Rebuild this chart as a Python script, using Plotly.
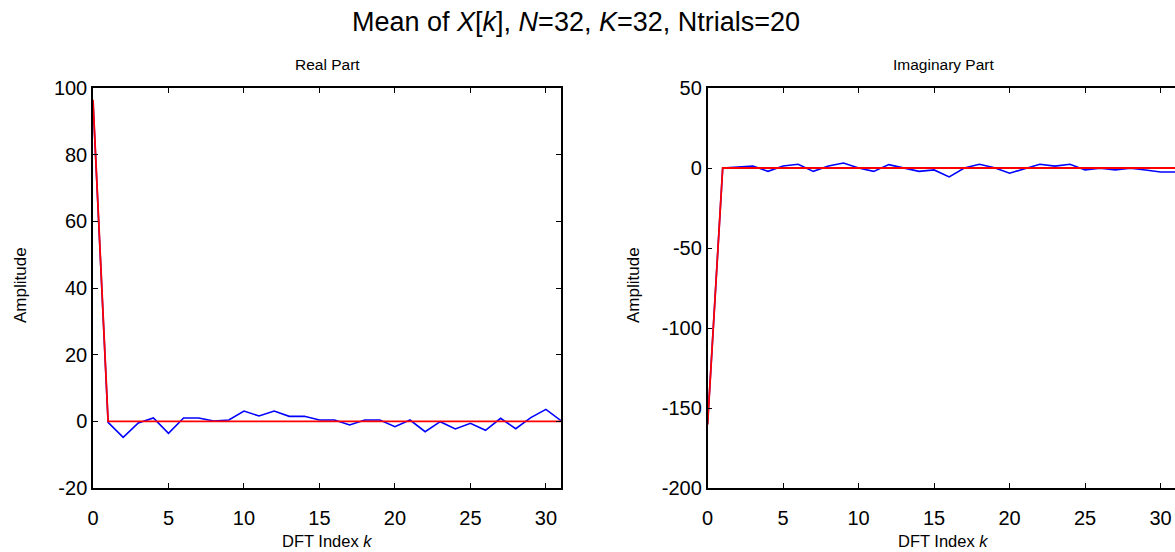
import plotly.graph_objects as go

k = list(range(32))
real_mean = [96.0, -0.3, -4.8, -0.5, 1.0, -3.6, 1.0, 1.0, 0.1, 0.4, 3.1, 1.6, 3.1, 1.5, 1.5, 0.4,
             0.4, -1.1, 0.4, 0.4, -1.6, 0.4, -3.1, -0.1, -2.3, -0.6, -2.7, 0.9, -2.2, 1.1, 3.6, 0.2]
real_true = [96.5] + [0.0] * 31
imag_mean = [-160.0, 0.0, 0.6, 1.2, -2.1, 1.2, 2.3, -2.1, 1.2, 3.1, 0.0, -2.1, 2.1, 0.0, -2.1, -1.2,
             -5.6, 0.0, 2.3, 0.2, -3.3, -0.4, 2.3, 1.2, 2.3, -1.2, -0.2, -1.2, -0.2, -1.2, -2.5, -2.5]
imag_true = [-160.5] + [0.0] * 31

real_yticks = [-20, 0, 20, 40, 60, 80, 100]
imag_yticks = [-200, -150, -100, -50, 0, 50]
xticks = [0, 5, 10, 15, 20, 25, 30]

W, H = 1175, 552
FONT = "Liberation Sans, Arial, sans-serif"

def px_x(p):
    return p / W

def px_y(p):
    return 1 - p / H

def labels(vals):
    return [str(v) for v in vals]

top, bot = 88, 488
ydom = [px_y(bot), px_y(top)]
x1dom = [px_x(93), px_x(561)]
x2dom = [px_x(707.6), 1.0]

fig = go.Figure()
fig.add_trace(go.Scatter(x=k, y=real_mean, mode="lines", line=dict(color="#0000ff", width=1.6),
                         xaxis="x", yaxis="y", showlegend=False))
fig.add_trace(go.Scatter(x=k, y=real_true, mode="lines", line=dict(color="#ff0000", width=1.8),
                         xaxis="x", yaxis="y", showlegend=False))
fig.add_trace(go.Scatter(x=k, y=imag_mean, mode="lines", line=dict(color="#0000ff", width=1.6),
                         xaxis="x2", yaxis="y2", showlegend=False))
fig.add_trace(go.Scatter(x=k, y=imag_true, mode="lines", line=dict(color="#ff0000", width=1.8),
                         xaxis="x2", yaxis="y2", showlegend=False))

tickfont = dict(family=FONT, size=20, color="black")
common = dict(showgrid=False, zeroline=False, showline=True, linecolor="black", linewidth=1.5,
              ticks="inside", ticklen=5, tickcolor="black", tickwidth=1, tickfont=tickfont,
              automargin=False)

x2_right = 31 * (W - 707.6) / (1175.7 - 707.6)

fig.update_layout(
    template="none",
    width=W, height=H, autosize=False,
    margin=dict(l=0, r=0, t=0, b=0, pad=0),
    plot_bgcolor="white", paper_bgcolor="white",
    font=dict(family=FONT, color="black"),
    xaxis=dict(domain=x1dom, anchor="y", range=[0, 31], tickvals=xticks, ticktext=labels(xticks),
               mirror="ticks", ticklabelstandoff=11, **common),
    yaxis=dict(domain=ydom, anchor="x", range=[-20, 100], tickvals=real_yticks,
               ticktext=labels(real_yticks), mirror="ticks", ticklabelstandoff=0, **common),
    xaxis2=dict(domain=x2dom, anchor="y2", range=[0, x2_right], tickvals=xticks,
                ticktext=labels(xticks), mirror="ticks", ticklabelstandoff=11, **common),
    yaxis2=dict(domain=ydom, anchor="x2", range=[-200, 50], tickvals=imag_yticks,
                ticktext=labels(imag_yticks), mirror=False, ticklabelstandoff=0, **common),
    yaxis3=dict(overlaying="y2", side="right", anchor="x2", range=[-200, 50], tickvals=imag_yticks,
                showticklabels=False, showline=False, showgrid=False, zeroline=False,
                ticks="inside", ticklen=5, tickcolor="black", tickwidth=1, automargin=False),
)

ann = []
ann.append(dict(text="Mean of <i>X</i>[<i>k</i>], <i>N</i>=32, <i>K</i>=32, Ntrials=20",
                x=px_x(576), y=px_y(22), xref="paper", yref="paper", showarrow=False,
                xanchor="center", yanchor="middle", font=dict(family=FONT, size=27, color="black")))
ann.append(dict(text="Real Part", x=px_x(327), y=px_y(65), xref="paper", yref="paper",
                showarrow=False, xanchor="center", yanchor="middle",
                font=dict(family=FONT, size=15.5, color="black")))
ann.append(dict(text="Imaginary Part", x=px_x(943), y=px_y(65), xref="paper", yref="paper",
                showarrow=False, xanchor="center", yanchor="middle",
                font=dict(family=FONT, size=15.5, color="black")))
for cx in (327, 943):
    ann.append(dict(text="DFT Index <i>k</i>", x=px_x(cx), y=px_y(541), xref="paper", yref="paper",
                    showarrow=False, xanchor="center", yanchor="middle",
                    font=dict(family=FONT, size=16.5, color="black")))
for cx in (20, 633):
    ann.append(dict(text="Amplitude", x=px_x(cx), y=px_y(285), xref="paper", yref="paper",
                    showarrow=False, xanchor="center", yanchor="middle", textangle=-90,
                    font=dict(family=FONT, size=17, color="black")))
fig.update_layout(annotations=ann)

fig.write_html("out.html", config={"displayModeBar": False},
               post_script="document.body.style.margin='0';document.body.style.overflow='hidden';")
